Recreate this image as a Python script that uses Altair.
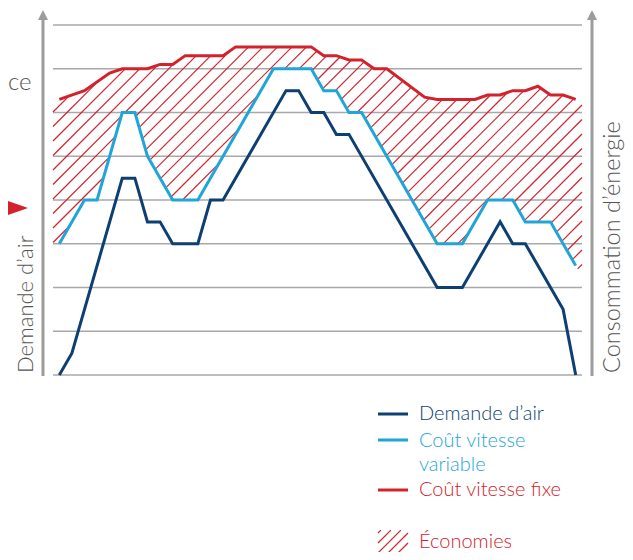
import altair as alt
import numpy as np
import pandas as pd

# ---------------- data ----------------
t_demande = [0, 1, 5, 6, 7, 8, 9, 11, 12, 13, 18, 19, 20, 21, 22, 23, 30, 32, 35, 36, 37, 40, 41]
v_demande = [0, 0.5, 4.5, 4.5, 3.5, 3.5, 3, 3, 4, 4, 6.5, 6.5, 6, 6, 5.5, 5.5, 2, 2, 3.5, 3, 3, 1.5, 0]

t_variable = [0, 2, 3, 5, 6, 7, 9, 11, 17, 20, 21, 22, 23, 24, 30, 32, 34, 36, 37, 39, 41]
v_variable = [3, 4, 4, 6, 6, 5, 4, 4, 7, 7, 6.5, 6.5, 6, 6, 3, 3, 4, 4, 3.5, 3.5, 2.5]

t_fixe = [0, 2, 4, 5, 7, 8, 9, 10, 13, 14, 20, 21, 22, 23, 24, 25, 26, 29, 30, 33, 34, 35, 36, 37, 38, 39, 40, 41]
v_fixe = [6.3, 6.5, 6.9, 7.0, 7.0, 7.1, 7.1, 7.3, 7.3, 7.5, 7.5, 7.3, 7.3, 7.2, 7.2, 7.0, 7.0, 6.35, 6.3, 6.3,
          6.4, 6.4, 6.5, 6.5, 6.6, 6.4, 6.4, 6.3]

grid_levels = [0, 1, 2, 3, 4, 5, 6, 7, 8]

name_demande = "Demande d’air"
name_variable_1 = "Coût vitesse"
name_variable_2 = "variable"
name_fixe = "Coût vitesse fixe"
name_economies = "Économies"
left_title = "Demande d’air"
right_title = "Consommation d’énergie"
cut_text = "ce"

# ---------------- styles / layout ----------------
C_DARK = "#0d3f72"
C_LIGHT = "#1fa5d8"
C_RED = "#d3222b"
C_GRID = "#a8a8a8"
C_ARROW = "#9c9c9c"
C_TEXT = "#555555"
FONT = "Lato"

W, H = 529, 350
X_DOMAIN = [-0.5, 41.5]
Y_DOMAIN = [0, 8]
sx = W / (X_DOMAIN[1] - X_DOMAIN[0])
sy = H / (Y_DOMAIN[1] - Y_DOMAIN[0])


def to_px(t):
    return (np.asarray(t, dtype=float) - X_DOMAIN[0]) * sx


def to_py(v):
    return (Y_DOMAIN[1] - np.asarray(v, dtype=float)) * sy


def from_px(px):
    return np.asarray(px) / sx + X_DOMAIN[0]


def from_py(py):
    return Y_DOMAIN[1] - np.asarray(py) / sy


def extend(ts, vs):
    ts = list(ts)
    vs = list(vs)
    s0 = (vs[1] - vs[0]) / (ts[1] - ts[0])
    s1 = (vs[-1] - vs[-2]) / (ts[-1] - ts[-2])
    t0, t1 = X_DOMAIN
    return ([t0] + ts + [t1],
            [vs[0] + s0 * (t0 - ts[0])] + vs + [vs[-1] + s1 * (t1 - ts[-1])])


def hatch_segments(px_grid, top_py, bot_py, spacing, phase=0.0):
    segs = []
    cmin = px_grid[0] + np.min(top_py)
    cmax = px_grid[-1] + np.max(bot_py)
    k0 = int(np.floor((cmin - phase) / spacing))
    k1 = int(np.ceil((cmax - phase) / spacing))
    for k in range(k0, k1 + 1):
        c = phase + k * spacing
        ly = c - px_grid
        inside = (ly >= top_py) & (ly <= bot_py)
        edges = np.flatnonzero(np.diff(np.concatenate([[0], inside.astype(int), [0]])))
        for s, e in zip(edges[::2], edges[1::2]):
            if e - s < 3:
                continue
            x1, x2 = px_grid[s], px_grid[e - 1]
            segs.append((x1, c - x1, x2, c - x2))
    return segs


# hatch between fixed cost (top) and variable cost (bottom)
tf, vf = extend(t_fixe, v_fixe)
tv, vv = extend(t_variable, v_variable)
pxg = np.arange(0, W + 0.001, 0.1)
top = np.interp(pxg, to_px(tf), to_py(vf))
bot = np.interp(pxg, to_px(tv), to_py(vv))
segs = hatch_segments(pxg, top, bot, 14.5, 0.0)

# legend icon hatch (pixel box in plot coordinates)
icon_x0, icon_x1, icon_y0, icon_y1 = 325, 355, 505, 533
pxi = np.arange(icon_x0, icon_x1 + 0.001, 0.1)
segs += hatch_segments(pxi, np.full_like(pxi, icon_y0), np.full_like(pxi, icon_y1), 10.0, 3.0)

segs = np.array(segs)
df_hatch = pd.DataFrame({
    "t": from_px(segs[:, 0]), "v": from_py(segs[:, 1]),
    "t2": from_px(segs[:, 2]), "v2": from_py(segs[:, 3]),
})

xs = alt.Scale(domain=X_DOMAIN, nice=False, zero=False)
ys = alt.Scale(domain=Y_DOMAIN, nice=False, zero=False)
X = alt.X("t:Q", scale=xs, axis=None)
Y = alt.Y("v:Q", scale=ys, axis=None)

one = pd.DataFrame({"a": [0]})

layers = []

# grid
df_grid = pd.DataFrame({"v": grid_levels})
layers.append(alt.Chart(df_grid).mark_rule(color=C_GRID, strokeWidth=1.3).encode(
    y=Y, x=alt.value(0), x2=alt.value(W)))

# hatch
layers.append(alt.Chart(df_hatch).mark_rule(color=C_RED, strokeWidth=1.2).encode(
    x=X, y=Y, x2="t2:Q", y2="v2:Q"))

# lines
for ts, vs, col in [(t_fixe, v_fixe, C_RED), (t_variable, v_variable, C_LIGHT), (t_demande, v_demande, C_DARK)]:
    layers.append(alt.Chart(pd.DataFrame({"t": ts, "v": vs})).mark_line(
        color=col, strokeWidth=3, strokeJoin="miter").encode(x=X, y=Y))

# arrows
for ax in [-10, 539]:
    layers.append(alt.Chart(one).mark_rule(color=C_ARROW, strokeWidth=3).encode(
        x=alt.value(ax), y=alt.value(-6), y2=alt.value(351)))
    layers.append(alt.Chart(one).mark_point(
        shape="M-1,1L1,1L0,-1Z", filled=True, opacity=1, color=C_ARROW, size=100, strokeWidth=0).encode(
        x=alt.value(ax), y=alt.value(-10)))

# red pointer
layers.append(alt.Chart(one).mark_point(
    shape="M-1,-0.7L1,0L-1,0.7Z", filled=True, opacity=1, color=C_RED, size=900, strokeWidth=0).encode(
    x=alt.value(-40), y=alt.value(183)))


def txt(s, x, y, color, size=21, angle=0, align="left", baseline="alphabetic"):
    kw = dict(text=s, font=FONT, fontWeight=300, fontSize=size, color=color,
              align=align, baseline=baseline)
    if angle:
        kw["angle"] = angle
    return alt.Chart(one).mark_text(**kw).encode(x=alt.value(x), y=alt.value(y))


layers.append(txt(cut_text, -45, 65, C_TEXT, size=24))
layers.append(txt(left_title, -20, 348, C_TEXT, size=22, angle=270))
layers.append(txt(right_title, 567, 348, C_TEXT, size=23.5, angle=270))

# legend lines
for y, col in [(389, C_DARK), (415, C_LIGHT), (465, C_RED)]:
    layers.append(alt.Chart(one).mark_rule(color=col, strokeWidth=3).encode(
        x=alt.value(325), x2=alt.value(355), y=alt.value(y), y2=alt.value(y)))

layers.append(txt(name_demande, 366, 395, C_DARK, size=20))
layers.append(txt(name_variable_1, 366, 422, C_LIGHT, size=20))
layers.append(txt(name_variable_2, 366, 446, C_LIGHT, size=20))
layers.append(txt(name_fixe, 366, 471, C_RED, size=20))
layers.append(txt(name_economies, 366, 523, C_RED, size=20))

chart = alt.layer(*layers).properties(
    width=W, height=H,
    padding={"left": 45, "top": 17, "right": 43, "bottom": 177},
    autosize=alt.AutoSizeParams(type="none"),
).configure_view(stroke=None)

chart.save("out.html", embed_options={"renderer": "svg", "actions": False})
